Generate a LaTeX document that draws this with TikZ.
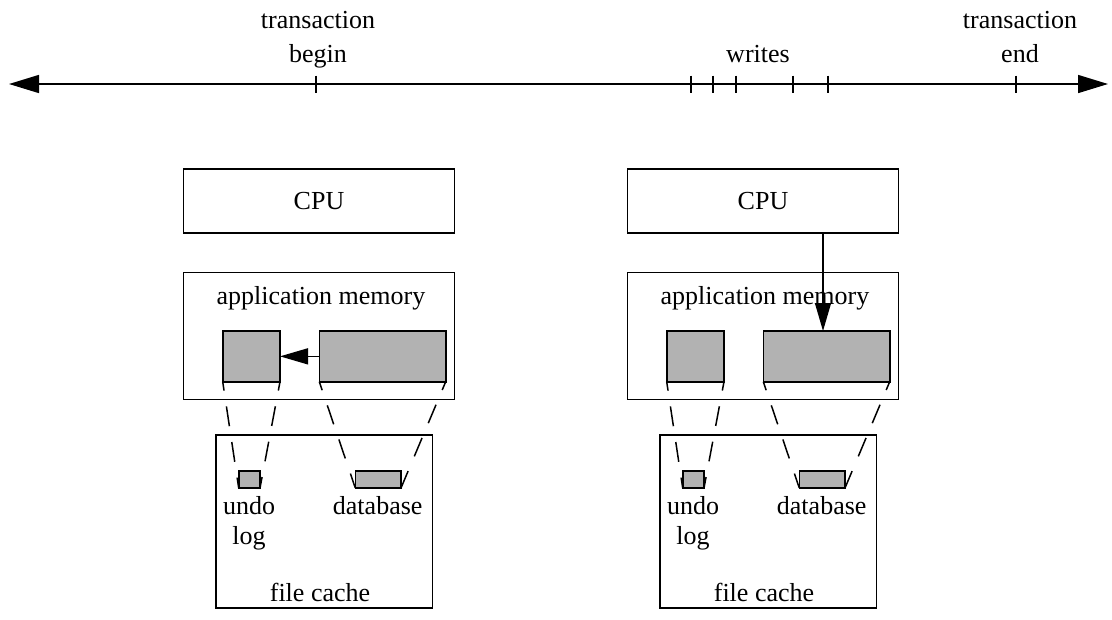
\documentclass[tikz,border=0pt]{standalone}
\usepackage{fontspec}
\setmainfont{Liberation Serif}
\usepackage{tikz}
\usetikzlibrary{arrows.meta}

\tikzset{
  box/.style={draw, line width=1.6pt, inner sep=0pt, outer sep=0pt},
  page/.style={box, fill=black!30},
  lbl/.style={inner sep=0pt, anchor=base, align=center},
  ptr/.style={line width=1.5pt, -{Triangle[length=28pt, width=16pt]}},
  mapline/.style={line width=1.5pt, dash pattern=on 20pt off 16pt, dash phase=11pt},
}

\begin{document}
\begin{tikzpicture}[x=1pt, y=-1pt, line join=miter,
  every node/.style={font=\fontsize{26}{30}\selectfont}]
\useasboundingbox (0,0) rectangle (1112,619);

% time line
\coordinate (tl) at (9,84);
\coordinate (tr) at (1108,84);
\draw[line width=1.5pt, {Triangle[length=30pt, width=18pt]}-{Triangle[length=30pt, width=18pt]}] (tl) -- (tr);
\foreach \t in {316,691,713,736,793,828,1016}
  \draw[line width=1.2pt] (\t,75.5) -- (\t,92.5);
\node[lbl, font=\fontsize{26}{34}\selectfont] (tbegin) at (318,62) {transaction\\begin};
\node[lbl] (writes) at (758,62) {writes};
\node[lbl, font=\fontsize{26}{34}\selectfont] (tend) at (1020,62) {transaction\\end};

% before the writes
\begin{scope}
  \node[box, minimum width=271pt, minimum height=64pt] (cpuL) at (319,201) {CPU};
  \node[box, minimum width=271pt, minimum height=127pt] (memL) at (319,336) {};
  \node[lbl] (memtxtL) at (321,304) {application memory};
  \node[page, minimum width=57.3pt, minimum height=50.7pt] (undomemL) at (251.35,356.35) {};
  \node[page, minimum width=126.4pt, minimum height=50.7pt] (dbmemL) at (382.5,356.35) {};
  \draw[ptr] (dbmemL.west) -- (undomemL.east);
  \node[box, minimum width=216.5pt, minimum height=173pt] (cacheL) at (324.25,521.5) {};
  \node[page, minimum width=21.3pt, minimum height=17pt] (undoL) at (249.35,479.5) {};
  \node[page, minimum width=45.7pt, minimum height=17pt] (dbL) at (378.15,479.5) {};
  \draw[mapline] (undomemL.south west) -- (undoL.south west);
  \draw[mapline] (undomemL.south east) -- (undoL.south east);
  \draw[mapline] (dbmemL.south west) -- (dbL.south west);
  \draw[mapline] (dbmemL.south east) -- (dbL.south east);
  \node[lbl] (undotxtL) at (249,544) {undo\\log};
  \node[lbl] (dbtxtL) at (377.7,514) {database};
  \node[lbl] (cachetxtL) at (320,601) {file cache};
\end{scope}

% during the writes
\begin{scope}[xshift=444pt]
  \node[box, minimum width=271pt, minimum height=64pt] (cpuR) at (319,201) {CPU};
  \node[box, minimum width=271pt, minimum height=127pt] (memR) at (319,336) {};
  \node[lbl] (memtxtR) at (321,304) {application memory};
  \node[page, minimum width=57.3pt, minimum height=50.7pt] (undomemR) at (251.35,356.35) {};
  \node[page, minimum width=126.4pt, minimum height=50.7pt] (dbmemR) at (382.5,356.35) {};
  \coordinate (wrR) at (379,233);
  \draw[ptr] (wrR) -- (wrR |- dbmemR.north);
  \node[box, minimum width=216.5pt, minimum height=173pt] (cacheR) at (324.25,521.5) {};
  \node[page, minimum width=21.3pt, minimum height=17pt] (undoR) at (249.35,479.5) {};
  \node[page, minimum width=45.7pt, minimum height=17pt] (dbR) at (378.15,479.5) {};
  \draw[mapline] (undomemR.south west) -- (undoR.south west);
  \draw[mapline] (undomemR.south east) -- (undoR.south east);
  \draw[mapline] (dbmemR.south west) -- (dbR.south west);
  \draw[mapline] (dbmemR.south east) -- (dbR.south east);
  \node[lbl] (undotxtR) at (249,544) {undo\\log};
  \node[lbl] (dbtxtR) at (377.7,514) {database};
  \node[lbl] (cachetxtR) at (320,601) {file cache};
\end{scope}
\end{tikzpicture}
\end{document}
